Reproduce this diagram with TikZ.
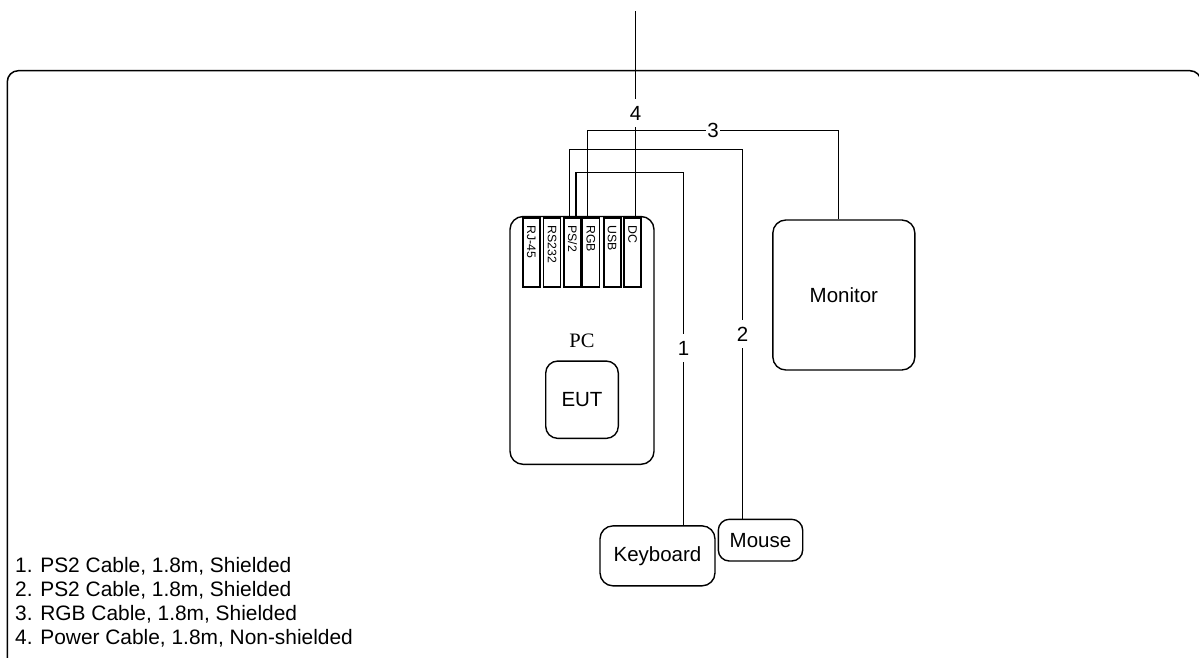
\documentclass[tikz,border=0pt]{standalone}
\usepackage{fontspec}
\setmainfont{Liberation Sans}
\newfontfamily\serifpc{Liberation Serif}
\usetikzlibrary{calc}
\begin{document}
\begin{tikzpicture}[x=1pt,y=-1pt,
  wire/.style={line width=1.3pt},
  devbox/.style={draw,line width=1.4pt,rounded corners=13pt,inner sep=0pt,font=\fontsize{20.5}{24}\selectfont},
  portbox/.style={draw,line width=1.7pt,minimum width=17pt,minimum height=69.5pt,inner sep=0pt,anchor=north},
  porttext/.style={rotate=-90,anchor=west,inner sep=0pt,font=\fontsize{12.3}{14}\selectfont},
  cablelabel/.style={fill=white,inner xsep=1.2pt,inner ysep=6.5pt,font=\fontsize{20.5}{24}\selectfont}]
\useasboundingbox (0,0) rectangle (1199,657);
\begin{scope}
\clip (0,0) rectangle (1199,657);
\draw[line width=1.5pt,rounded corners=11pt] (7.3,70.7) rectangle (1201,720);
\end{scope}
% PC
\draw[line width=1.4pt,rounded corners=13pt] (510,216.5) rectangle (654,464.3);
\node[portbox] (rj) at (531.4,216.8) {};
\node[portbox] (rs) at (552.0,216.8) {};
\node[portbox] (ps) at (572.5,216.8) {};
\node[portbox] (rgb) at (590.9,216.8) {};
\node[portbox] (usb) at (612.2,216.8) {};
\node[portbox] (dc) at (632.5,216.8) {};
\node[porttext] at ($(rj.north)+(0,8.5)$) {RJ-45};
\node[porttext] at ($(rs.north)+(0,8.5)$) {RS232};
\node[porttext] at ($(ps.north)+(0,8.5)$) {PS/2};
\node[porttext] at ($(rgb.north)+(0,8.5)$) {RGB};
\node[porttext] at ($(usb.north)+(0,8.5)$) {USB};
\node[porttext] at ($(dc.north)+(0,8.5)$) {DC};
\node[font=\serifpc\fontsize{20.5}{24}\selectfont,inner sep=0pt] (pc) at (582,341) {PC};
\node[devbox,minimum width=72.6pt,minimum height=77.3pt,rounded corners=12pt] (eut) at (582,399.7) {EUT};
% peripherals
\node[devbox,minimum width=142pt,minimum height=150pt] (mon) at (843.85,295) {Monitor};
\node[devbox,minimum width=115pt,minimum height=60pt] (kb) at (657.5,555.85) {Keyboard};
\node[devbox,minimum width=84.4pt,minimum height=41.7pt,rounded corners=11pt] (mouse) at (760.5,540.15) {Mouse};
% cables
\coordinate (top4) at (635.5,11);
\draw[wire] (top4) -- (top4 |- dc.north);
\draw[wire] ($(rgb.north)+(-3.4,0)$) |- (838.5,130.5) -- (838.5,0 |- mon.north);
\draw[wire] ($(ps.north)+(-3.0,0)$) |- (742.5,149.5) -- (742.5,0 |- mouse.north);
\draw[wire] ($(ps.north)+(3.5,0)$) |- (683.5,172.5) -- (683.5,0 |- kb.north);
\node[cablelabel] at (683.5,348) {1};
\node[cablelabel] at (742.5,334) {2};
\node[cablelabel] at (713,130.5) {3};
\node[cablelabel] at (635.5,113) {4};
% legend
\node[anchor=base west,align=left,inner sep=0pt,font=\fontsize{20.9}{23.7}\selectfont] (legend) at (15,644) {1. PS2 Cable, 1.8m, Shielded\\2. PS2 Cable, 1.8m, Shielded\\3. RGB Cable, 1.8m, Shielded\\4. Power Cable, 1.8m, Non-shielded};
\end{tikzpicture}
\end{document}
